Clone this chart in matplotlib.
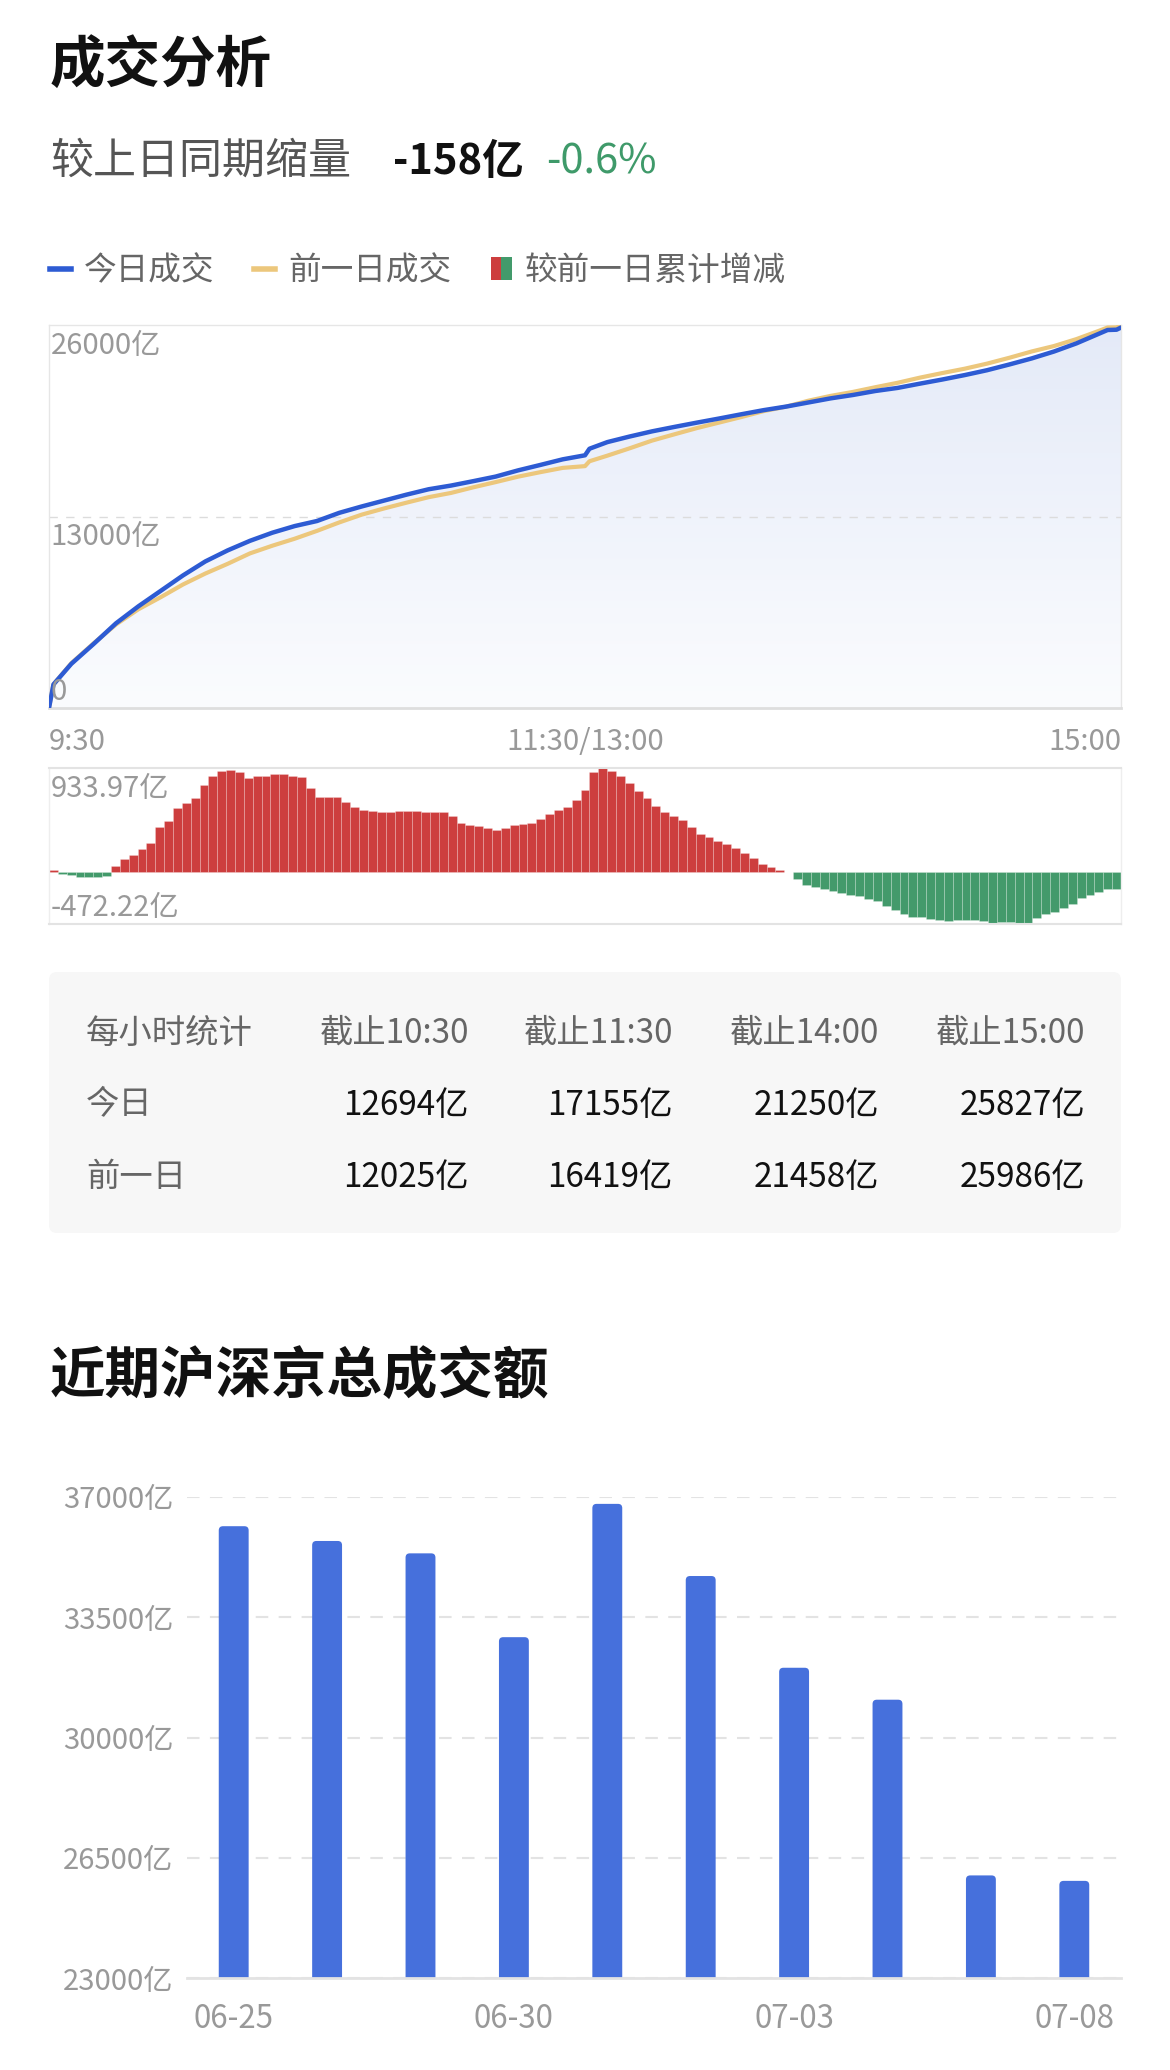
import numpy as np
import matplotlib
matplotlib.use('Agg')
import matplotlib.pyplot as plt
from matplotlib.colors import LinearSegmentedColormap
from matplotlib.lines import Line2D
from matplotlib.patches import Rectangle, FancyBboxPatch
from matplotlib.legend_handler import HandlerTuple

plt.rcParams['font.family'] = ['Noto Sans CJK SC', 'DejaVu Sans']

# ---- data (亿) ----
change_amt = -158
change_pct = -0.6

# minutes after 9:30, lunch break removed (120 = 11:30/13:00, 240 = 15:00)
minutes = [0, 1, 3, 5, 10, 15, 20, 25, 30, 35, 40, 45, 50, 55, 60, 65, 70, 75, 80, 85,
           90, 95, 100, 105, 110, 115, 120, 121, 125, 130, 135, 140, 145, 150, 155, 160,
           165, 170, 175, 180, 185, 190, 195, 200, 205, 210, 215, 220, 225, 230, 235,
           237, 239, 240]
today = [0, 1600, 2300, 3000, 4350, 5750, 6900, 7950, 9000, 9950, 10700, 11350, 11900,
         12350, 12694, 13250, 13680, 14080, 14480, 14850, 15100, 15400, 15710, 16130,
         16500, 16880, 17155, 17600, 18050, 18430, 18780, 19080, 19370, 19650, 19940,
         20220, 20460, 20740, 21020, 21250, 21520, 21730, 22020, 22300, 22600, 22930,
         23320, 23730, 24200, 24750, 25400, 25660, 25680, 25827]
prev = [0, 1600, 2320, 3040, 4395, 5670, 6700, 7520, 8385, 9128, 9788, 10497, 11017,
        11492, 12025, 12600, 13125, 13545, 13936, 14312, 14600, 14982, 15335, 15704,
        16010, 16300, 16419, 16750, 17130, 17630, 18152, 18578, 18998, 19375, 19752,
        20155, 20454, 20860, 21188, 21458, 21776, 22078, 22428, 22738, 23033, 23377,
        23775, 24202, 24572, 25040, 25598, 25830, 25840, 25986]
main_ticks = [0, 13000, 26000]
time_ticks = [0, 120, 240]
time_labels = ['9:30', '11:30/13:00', '15:00']

# cumulative difference vs previous day, every 2 minutes
diff_minutes = list(range(0, 241, 2))
diff = [15, -20, -35, -45, -50, -45, -40, 50, 110, 150, 200, 260, 400, 460, 575, 615,
        660, 780, 865, 905, 912, 895, 845, 862, 865, 883, 876, 865, 850, 750, 670, 672,
        675, 630, 585, 555, 544, 535, 535, 548, 544, 542, 540, 536, 535, 500, 440, 422,
        415, 395, 375, 395, 420, 432, 440, 470, 520, 552, 580, 650, 735, 898, 933.97,
        904, 860, 800, 725, 665, 590, 540, 502, 465, 405, 340, 312, 275, 252, 210, 165,
        125, 65, 42, 18, -5, -70, -120, -135, -160, -175, -192, -208, -220, -245, -268,
        -310, -348, -380, -405, -412, -425, -438, -445, -435, -432, -435, -447, -460,
        -455, -455, -462, -472.22, -420, -385, -360, -330, -290, -240, -215, -180, -160,
        -159]

hour_cols = ['截止10:30', '截止11:30', '截止14:00', '截止15:00']
hour_today = [12694, 17155, 21250, 25827]
hour_prev = [12025, 16419, 21458, 25986]

dates = ['06-25', '06-26', '06-27', '06-30', '07-01', '07-02', '07-03', '07-04',
         '07-07', '07-08']
total_vol = [36150, 35720, 35360, 32920, 36800, 34700, 32030, 31100, 25986, 25827]
vol_ticks = [23000, 26500, 30000, 33500, 37000]

BLUE = '#2d5bd3'
YELLOW = '#ecc77c'
RED = '#cd3e3e'
GREEN = '#439a6b'
GRAY = '#999999'

W, H = 1170, 2070
fig = plt.figure(figsize=(W / 100, H / 100), dpi=100)


def rect(l, t, r, b):
    return [l / W, 1 - b / H, (r - l) / W, (b - t) / H]


# ---- headings ----
fig.text(50 / W, 1 - 66 / H, '成交分析', fontsize=40, fontweight='bold',
         color='#111111', va='center')
fig.text(50 / W, 1 - 162 / H, '较上日同期缩量', fontsize=31, fontweight='medium',
         color='#555555', va='center')
fig.text(393 / W, 1 - 162 / H, f'{change_amt}亿', fontsize=30, fontweight='bold',
         color='#111111', va='center')
fig.text(546 / W, 1 - 162 / H, f'{change_pct}%', fontsize=30, fontweight='medium',
         color='#3f9a6a', va='center')

handles = [Line2D([], [], color=BLUE, lw=4),
           Line2D([], [], color=YELLOW, lw=4),
           (Rectangle((0, 0), 1, 1, fc=RED), Rectangle((0, 0), 1, 1, fc=GREEN))]
fig.legend(handles, ['今日成交', '前一日成交', '较前一日累计增减'],
           handler_map={tuple: HandlerTuple(ndivide=None, pad=0)},
           loc='center left', bbox_to_anchor=(50 / W, 1 - 271 / H), ncol=3,
           frameon=False, borderpad=0, borderaxespad=0, fontsize=23.5,
           handlelength=0.65, handletextpad=0.4, columnspacing=1.2,
           labelcolor='#666666')

# ---- cumulative turnover ----
ax1 = fig.add_axes(rect(49, 325, 1121, 708))
poly = ax1.fill_between(minutes, today, 0, color='none')
grad = np.linspace(0, 1, 256).reshape(-1, 1)
cmap = LinearSegmentedColormap.from_list('fade', ['#fbfcfe', '#e4eaf8'])
im = ax1.imshow(grad, extent=[0, 240, 0, 26000], origin='lower', aspect='auto',
                cmap=cmap, zorder=1)
im.set_clip_path(poly.get_paths()[0], transform=ax1.transData)
ax1.axhline(main_ticks[1], color='#dcdcdc', lw=1, dashes=(6, 6), zorder=2)
ax1.plot(minutes, prev, color=YELLOW, lw=3, zorder=3, solid_capstyle='round')
ax1.plot(minutes, today, color=BLUE, lw=3.2, zorder=4, solid_capstyle='round')
ax1.set_xlim(0, 240)
ax1.set_ylim(0, 26000)
ax1.set_yticks([])
ax1.set_xticks(time_ticks, time_labels)
ax1.tick_params(axis='x', length=0, pad=14, labelsize=21, labelcolor=GRAY)
xl = ax1.get_xticklabels()
xl[0].set_ha('left')
xl[-1].set_ha('right')
for s in ['top', 'left', 'right']:
    ax1.spines[s].set_color('#e6e6e6')
    ax1.spines[s].set_linewidth(1)
ax1.spines['bottom'].set_color('#dedede')
ax1.spines['bottom'].set_linewidth(2)
for v in main_ticks:
    lab = '0' if v == 0 else f'{v}亿'
    if v == 0:
        ax1.annotate(lab, xy=(0, v), xycoords=('axes fraction', 'data'),
                     xytext=(1, 1), textcoords='offset points', va='bottom',
                     fontsize=21, color=GRAY, zorder=5)
    else:
        ax1.annotate(lab, xy=(0, v), xycoords=('axes fraction', 'data'),
                     xytext=(1, -4), textcoords='offset points', va='top',
                     fontsize=21, color=GRAY, zorder=5)

# ---- difference bars ----
ax2 = fig.add_axes(rect(49, 768, 1121, 924))
colors = [RED if d >= 0 else GREEN for d in diff]
ax2.bar(diff_minutes, diff, width=2, color=colors, edgecolor=(1, 1, 1, 0.35),
        linewidth=0.4, zorder=2)
dmax, dmin = max(diff), min(diff)
ax2.set_xlim(-1, 241)
ax2.set_ylim(dmin, dmax)
ax2.set_xticks([])
ax2.set_yticks([])
for s in ['top', 'bottom']:
    ax2.spines[s].set_color('#e3e3e3')
    ax2.spines[s].set_linewidth(1.5)
for s in ['left', 'right']:
    ax2.spines[s].set_color('#eeeeee')
    ax2.spines[s].set_linewidth(1)
ax2.annotate(f'{dmax:.2f}亿', xy=(0, dmax), xycoords=('axes fraction', 'data'),
             xytext=(1, -4), textcoords='offset points', va='top',
             fontsize=21, color=GRAY, zorder=5)
ax2.annotate(f'{dmin:.2f}亿', xy=(0, dmin), xycoords=('axes fraction', 'data'),
             xytext=(1, 1), textcoords='offset points', va='bottom',
             fontsize=21, color=GRAY, zorder=5)

# ---- hourly table ----
axt = fig.add_axes(rect(49, 972, 1121, 1233))
axt.set_xlim(0, 1072)
axt.set_ylim(0, 261)
axt.axis('off')
axt.add_patch(FancyBboxPatch((0, 0), 1072, 261, boxstyle='round,pad=0,rounding_size=8',
                             fc='#f7f7f7', ec='none'))
col_x = [420, 624, 830, 1036]
row_y = [200, 128, 56]
axt.text(37, row_y[0], '每小时统计', fontsize=24, color='#666666', va='center')
axt.text(37, row_y[1], '今日', fontsize=24, color='#666666', va='center')
axt.text(37, row_y[2], '前一日', fontsize=24, color='#666666', va='center')
for i in range(len(hour_cols)):
    axt.text(col_x[i], row_y[0], hour_cols[i], fontsize=24, color='#666666',
             va='center', ha='right')
    axt.text(col_x[i], row_y[1], f'{hour_today[i]}亿', fontsize=24, color='#111111',
             va='center', ha='right')
    axt.text(col_x[i], row_y[2], f'{hour_prev[i]}亿', fontsize=24, color='#111111',
             va='center', ha='right')

# ---- recent total turnover ----
fig.text(50 / W, 1 - 1377 / H, '近期沪深京总成交额', fontsize=40, fontweight='bold',
         color='#111111', va='center')
ax3 = fig.add_axes(rect(187, 1497, 1121, 1978))
x = np.arange(len(dates))
ax3.set_xlim(-0.5, len(dates) - 0.5)
ax3.set_ylim(vol_ticks[0], vol_ticks[-1])
bars = ax3.bar(x, total_vol, width=0.32, color='#4670dc', zorder=3)
# round the bar tops: redraw each bar as a rounded box that starts below the axis
ybot = vol_ticks[0]
span = vol_ticks[-1] - vol_ticks[0]
ext = span * 0.05
asp = (span / 481) / (len(dates) / 934)
for b in bars:
    top = b.get_y() + b.get_height()
    b.remove()
    ax3.add_patch(FancyBboxPatch((b.get_x(), ybot - ext), b.get_width(),
                                 top - ybot + ext,
                                 boxstyle='round,pad=0,rounding_size=0.045',
                                 mutation_aspect=asp, fc='#4670dc', ec='none',
                                 zorder=3))
ax3.set_yticks(vol_ticks, [f'{v}亿' for v in vol_ticks])
ax3.set_xticks(x[::3], dates[::3])
ax3.yaxis.grid(True, color='#e3e3e3', lw=1.5, dashes=(6, 5), zorder=0)
ax3.tick_params(length=0, labelsize=21, labelcolor=GRAY)
ax3.tick_params(axis='x', pad=18, labelsize=22.5)
ax3.tick_params(axis='y', pad=10)
for s in ['top', 'left', 'right']:
    ax3.spines[s].set_visible(False)
ax3.spines['bottom'].set_color('#e3e3e3')
ax3.spines['bottom'].set_linewidth(2)
ax3.spines['bottom'].set_zorder(4)

fig.savefig('out.png', dpi=100, facecolor='white')
